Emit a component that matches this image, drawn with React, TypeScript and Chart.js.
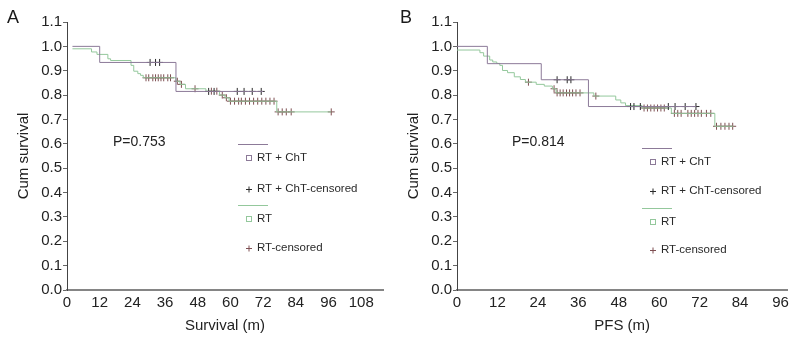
import React, { useEffect, useRef } from 'react';
import { Chart, registerables } from 'chart.js';

Chart.register(...registerables);

// ---------- Panel A : overall survival ----------
const osChtTimes = [2, 12, 40, 72];
const osChtSurv = [1.0, 0.934, 0.815, 0.815];
const osChtCensored = [30.5, 32.5, 34, 52, 54, 62.5, 65, 68, 71.3];
const osRtTimes = [2, 9, 11, 15, 16, 23.5, 24.5, 26, 27, 28, 40, 41.5, 43.5, 51, 56, 58, 59.5, 77, 97];
const osRtSurv = [0.99, 0.977, 0.967, 0.949, 0.942, 0.922, 0.898, 0.888, 0.881, 0.871, 0.857, 0.844, 0.826, 0.816, 0.8, 0.789, 0.775, 0.731, 0.731];
const osRtCensored = [29, 30, 31.5, 32.5, 33.5, 34.5, 35.5, 37, 38, 40.5, 42, 47, 53, 55, 57, 58.5, 60, 61.5, 63, 64, 65.5, 67, 68.5, 70, 71.5, 73, 74.5, 76, 77.5, 79, 80.5, 82.3, 97];

// ---------- Panel B : progression-free survival ----------
const pfsChtTimes = [0, 9, 25, 39, 71];
const pfsChtSurv = [1.0, 0.929, 0.863, 0.753, 0.753];
const pfsChtCensored = [29.7, 32.7, 33.8, 51.5, 52.5, 54.4, 62.7, 64.7, 67.7, 70.9];
const pfsRtTimes = [0, 6.8, 7.9, 9.7, 10.6, 11.8, 12.7, 13.5, 15, 17, 18.8, 20.3, 23.5, 25.9, 28.3, 29.4, 40.6, 47.1, 48.6, 50, 54.9, 63.6, 76.5, 82];
const pfsRtSurv = [0.985, 0.974, 0.96, 0.944, 0.936, 0.93, 0.922, 0.901, 0.892, 0.875, 0.864, 0.853, 0.844, 0.837, 0.826, 0.809, 0.796, 0.78, 0.768, 0.757, 0.747, 0.725, 0.672, 0.672];
const pfsRtCensored = [21.2, 28.8, 29.7, 30.6, 31.5, 32.5, 33.4, 34.3, 35.3, 36.5, 41.2, 55.5, 56.5, 57.5, 58.5, 59.5, 60.5, 61.5, 64.5, 65.5, 66.5, 68.5, 69.5, 70.5, 71.5, 72.5, 74, 75.3, 77, 78.3, 79.5, 80.7, 81.8];

const groupLabels = ['RT + ChT', 'RT + ChT-censored', 'RT', 'RT-censored'];
const yTickStep = 0.1;
const xTickStep = 12;

const FONT = '"Liberation Sans", Arial, Helvetica, sans-serif';
const PURPLE = '#8c7a98';
const BLACK = '#2a2a2a';
const GREEN = '#94c89c';
const BROWN = '#7e4f52';

function levelAt(times: number[], surv: number[], t: number) {
  let v = surv[0];
  for (let i = 0; i < times.length; i++) if (times[i] <= t) v = surv[i];
  return v;
}
const curve = (times: number[], surv: number[]) => times.map((t, i) => ({ x: t, y: surv[i] }));
const marks = (times: number[], surv: number[], cens: number[]) =>
  cens.map((t) => ({ x: t, y: levelAt(times, surv, t) }));

const kmDecor = {
  id: 'kmDecor',
  afterDraw(chart: any, _args: any, opts: any) {
    const ctx = chart.ctx as CanvasRenderingContext2D;
    const ds = chart.data.datasets;
    ctx.save();
    ctx.textAlign = 'left';
    ctx.fillStyle = '#1a1a1a';
    ctx.font = `18px ${FONT}`;
    ctx.textBaseline = 'alphabetic';
    ctx.fillText(opts.letter, opts.letterX, opts.letterY);

    ctx.font = `14px ${FONT}`;
    ctx.textBaseline = 'middle';
    ctx.fillStyle = '#222';
    ctx.fillText(opts.pText, opts.pX, opts.pY);

    const lx = opts.legendX;
    const ly = opts.legendY;
    ctx.font = `11.5px ${FONT}`;
    const drawLine = (c: string, y: number) => {
      ctx.strokeStyle = c; ctx.lineWidth = 1;
      ctx.beginPath(); ctx.moveTo(lx, y + 0.5); ctx.lineTo(lx + 30, y + 0.5); ctx.stroke();
    };
    const drawSquare = (c: string, y: number) => {
      ctx.strokeStyle = c; ctx.lineWidth = 1;
      ctx.strokeRect(lx + 8.5, y - 2.5, 5, 5);
    };
    const drawPlus = (c: string, y: number) => {
      ctx.strokeStyle = c; ctx.lineWidth = 1;
      ctx.beginPath();
      ctx.moveTo(lx + 8, y + 0.5); ctx.lineTo(lx + 14, y + 0.5);
      ctx.moveTo(lx + 11, y - 2.5); ctx.lineTo(lx + 11, y + 3.5);
      ctx.stroke();
    };
    const text = (s: string, y: number) => {
      ctx.fillStyle = '#2a2a2a';
      ctx.fillText(s, lx + 19, y);
    };
    drawLine(ds[0].borderColor, ly[0]);
    drawSquare(ds[0].borderColor, ly[1]); text(ds[0].label, ly[1]);
    drawPlus(ds[1].borderColor, ly[2]); text(ds[1].label, ly[2]);
    drawLine(ds[2].borderColor, ly[3]);
    drawSquare(ds[2].borderColor, ly[4]); text(ds[2].label, ly[4]);
    drawPlus(ds[3].borderColor, ly[5]); text(ds[3].label, ly[5]);
    ctx.restore();
  },
};

type PanelProps = {
  left: number;
  width: number;
  xMax: number;
  padRight: number;
  xTitle: string;
  chtT: number[]; chtS: number[]; chtC: number[];
  rtT: number[]; rtS: number[]; rtC: number[];
  decor: any;
};

function Panel(p: PanelProps) {
  const ref = useRef<HTMLCanvasElement | null>(null);
  useEffect(() => {
    if (!ref.current) return;
    const chart = new Chart(ref.current, {
      type: 'line',
      data: {
        datasets: [
          { label: groupLabels[0], data: curve(p.chtT, p.chtS), borderColor: PURPLE, borderWidth: 1, stepped: 'before', pointRadius: 0, fill: false },
          { label: groupLabels[1], data: marks(p.chtT, p.chtS, p.chtC), borderColor: BLACK, backgroundColor: BLACK, showLine: false, pointStyle: 'cross', pointRadius: 3.5, pointBorderWidth: 1, borderWidth: 1 },
          { label: groupLabels[2], data: curve(p.rtT, p.rtS), borderColor: GREEN, borderWidth: 1, stepped: 'before', pointRadius: 0, fill: false },
          { label: groupLabels[3], data: marks(p.rtT, p.rtS, p.rtC), borderColor: BROWN, backgroundColor: BROWN, showLine: false, pointStyle: 'cross', pointRadius: 3.5, pointBorderWidth: 1, borderWidth: 1 },
        ],
      } as any,
      options: {
        responsive: false,
        animation: false,
        events: [],
        layout: { padding: { top: 22, right: p.padRight, left: 0, bottom: 0 } },
        plugins: {
          legend: { display: false },
          tooltip: { enabled: false },
          kmDecor: p.decor,
        } as any,
        scales: {
          x: {
            type: 'linear',
            min: 0,
            max: p.xMax,
            afterFit: (s: any) => { s.height = 48; },
            border: { display: true, color: '#858585', width: 2 },
            grid: { display: true, drawOnChartArea: false, drawTicks: false },
            ticks: {
              stepSize: xTickStep,
              includeBounds: false,
              autoSkip: false,
              maxRotation: 0,
              padding: 4,
              color: '#222',
              font: { family: FONT, size: 15 },
            },
            title: { display: true, text: p.xTitle, color: '#222', font: { family: FONT, size: 15 }, padding: { top: 0, bottom: 3 } },
          },
          y: {
            type: 'linear',
            min: 0,
            max: 1.1,
            afterFit: (s: any) => { s.width = 67; },
            border: { display: true, color: '#444', width: 1 },
            grid: { display: true, drawOnChartArea: false, drawTicks: true, tickLength: 4, color: '#666' },
            ticks: {
              stepSize: yTickStep,
              padding: 1,
              color: '#222',
              font: { family: FONT, size: 15 },
              callback: (v: any) => Number(v).toFixed(1),
            },
            title: { display: true, text: 'Cum survival', color: '#222', font: { family: FONT, size: 15 }, padding: { top: 15, bottom: 0 } },
          },
        } as any,
      },
      plugins: [kmDecor as any],
    });
    return () => chart.destroy();
  }, []);
  return (
    <canvas
      ref={ref}
      width={p.width}
      height={338}
      style={{ position: 'absolute', left: p.left, top: 0, width: p.width, height: 338, display: 'block' }}
    />
  );
}

export default function App() {
  return (
    <div style={{ position: 'absolute', left: 0, top: 0, width: 793, height: 338, background: '#fff', overflow: 'hidden' }}>
      <Panel
        left={0}
        width={390}
        xMax={116}
        padRight={7}
        xTitle="Survival (m)"
        chtT={osChtTimes} chtS={osChtSurv} chtC={osChtCensored}
        rtT={osRtTimes} rtS={osRtSurv} rtC={osRtCensored}
        decor={{ letter: 'A', letterX: 7, letterY: 23, pText: 'P=0.753', pX: 113, pY: 142, legendX: 238, legendY: [144, 158, 189, 205, 219, 248] }}
      />
      <Panel
        left={390}
        width={403}
        xMax={98}
        padRight={3}
        xTitle="PFS (m)"
        chtT={pfsChtTimes} chtS={pfsChtSurv} chtC={pfsChtCensored}
        rtT={pfsRtTimes} rtS={pfsRtSurv} rtC={pfsRtCensored}
        decor={{ letter: 'B', letterX: 10, letterY: 23, pText: 'P=0.814', pX: 122, pY: 142, legendX: 252, legendY: [148, 162, 191, 208, 222, 250] }}
      />
    </div>
  );
}
